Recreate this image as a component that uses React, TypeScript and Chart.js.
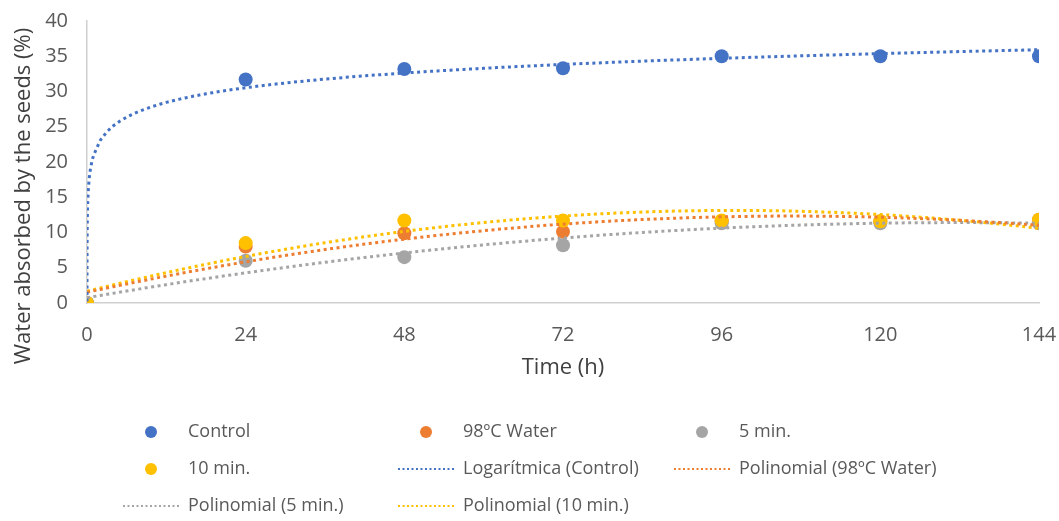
import React, { useEffect, useRef } from "react";
import { Chart, registerables } from "chart.js";

Chart.register(...registerables);

// ---- Data ----
const timeHours = [0, 24, 48, 72, 96, 120, 144];
const controlValues = [0, 31.7, 33.2, 33.3, 35.0, 35.0, 35.0];
const water98Values = [0, 8.0, 9.9, 10.1, 11.6, 11.6, 11.8];
const min5Values = [0, 6.0, 6.5, 8.2, 11.3, 11.3, 11.3];
const min10Values = [0, 8.5, 11.7, 11.7, 11.7, 11.6, 11.8];

const xTicks = [0, 24, 48, 72, 96, 120, 144];
const yTicks = [0, 5, 10, 15, 20, 25, 30, 35, 40];

const seriesNames = ["Control", "98ºC Water", "5 min.", "10 min."];
const trendNames = [
  "Logarítmica (Control)",
  "Polinomial (98ºC Water)",
  "Polinomial (5 min.)",
  "Polinomial (10 min.)",
];
const colors = ["#4472C4", "#ED7D31", "#A5A5A5", "#FFC000"];

// Excel cannot take ln(0); the zero time point is treated as a tiny time.
const LOG_ZERO_SUBSTITUTE = 0.001;

// ---- Regression helpers (trendlines computed from data) ----
function solve3(m: number[][], v: number[]): number[] {
  const a = m.map((r, i) => [...r, v[i]]);
  for (let i = 0; i < 3; i++) {
    let p = i;
    for (let k = i + 1; k < 3; k++) if (Math.abs(a[k][i]) > Math.abs(a[p][i])) p = k;
    [a[i], a[p]] = [a[p], a[i]];
    for (let k = 0; k < 3; k++) {
      if (k === i) continue;
      const f = a[k][i] / a[i][i];
      for (let j = i; j < 4; j++) a[k][j] -= f * a[i][j];
    }
  }
  return [a[0][3] / a[0][0], a[1][3] / a[1][1], a[2][3] / a[2][2]];
}

function polyFit2(xs: number[], ys: number[]) {
  const s = [0, 0, 0, 0, 0];
  const t = [0, 0, 0];
  xs.forEach((x, i) => {
    for (let k = 0; k < 5; k++) s[k] += Math.pow(x, k);
    for (let k = 0; k < 3; k++) t[k] += Math.pow(x, k) * ys[i];
  });
  const [c0, c1, c2] = solve3(
    [
      [s[0], s[1], s[2]],
      [s[1], s[2], s[3]],
      [s[2], s[3], s[4]],
    ],
    t
  );
  return (x: number) => c0 + c1 * x + c2 * x * x;
}

function logFit(xs: number[], ys: number[]) {
  const lx = xs.map((x) => Math.log(x <= 0 ? LOG_ZERO_SUBSTITUTE : x));
  const n = lx.length;
  const mx = lx.reduce((a, b) => a + b, 0) / n;
  const my = ys.reduce((a, b) => a + b, 0) / n;
  let sxy = 0;
  let sxx = 0;
  lx.forEach((l, i) => {
    sxy += (l - mx) * (ys[i] - my);
    sxx += (l - mx) * (l - mx);
  });
  const a = sxy / sxx;
  const b = my - a * mx;
  return (x: number) => a * Math.log(x) + b;
}

function sampleXs(fine: boolean) {
  const xs: number[] = [];
  if (fine) xs.push(0.001, 0.002, 0.005, 0.01, 0.02, 0.05, 0.1, 0.2, 0.35, 0.5, 0.75);
  else xs.push(0);
  for (let x = 1; x <= 144; x += 1) xs.push(x);
  return xs;
}

function curve(f: (x: number) => number, fine: boolean) {
  return sampleXs(fine).map((x) => ({ x, y: f(x) }));
}

const FONT = "'Open Sans', 'DejaVu Sans', sans-serif";
const TEXT = "#595959";

const legendPlugin = {
  id: "gridLegend",
  afterDraw(chart: any) {
    const ctx = chart.ctx;
    const colX = [151, 426, 702];
    const rowY = [432, 469, 506];
    const items: { label: string; color: string; kind: "dot" | "line" }[] = [];
    seriesNames.forEach((n, i) => items.push({ label: n, color: colors[i], kind: "dot" }));
    trendNames.forEach((n, i) => items.push({ label: n, color: colors[i], kind: "line" }));
    ctx.save();
    items.forEach((it, i) => {
      const cx = colX[i % 3];
      const cy = rowY[Math.floor(i / 3)];
      if (it.kind === "dot") {
        ctx.fillStyle = it.color;
        ctx.beginPath();
        ctx.arc(cx, cy, 6, 0, Math.PI * 2);
        ctx.fill();
      } else {
        ctx.strokeStyle = it.color;
        ctx.lineWidth = 2;
        ctx.setLineDash([2, 2.5]);
        ctx.beginPath();
        ctx.moveTo(cx - 28, cy);
        ctx.lineTo(cx + 28, cy);
        ctx.stroke();
        ctx.setLineDash([]);
      }
      ctx.fillStyle = TEXT;
      ctx.font = `18px ${FONT}`;
      ctx.textBaseline = "middle";
      ctx.textAlign = "left";
      ctx.fillText(it.label, cx + 37, cy);
    });

    // axis titles
    ctx.fillStyle = "#404040";
    ctx.font = `22px ${FONT}`;
    ctx.textAlign = "center";
    ctx.textBaseline = "middle";
    ctx.fillText("Time (h)", 563, 368);
    ctx.translate(24, 196);
    ctx.rotate(-Math.PI / 2);
    ctx.fillText("Water absorbed by the seeds (%)", 0, 0);
    ctx.restore();
  },
};

export default function App() {
  const ref = useRef<HTMLCanvasElement | null>(null);
  useEffect(() => {
    document.body.style.margin = "0";
    const toPts = (vals: number[]) => timeHours.map((x, i) => ({ x, y: vals[i] }));
    const fits = [
      curve(logFit(timeHours, controlValues), true),
      curve(polyFit2(timeHours, water98Values), false),
      curve(polyFit2(timeHours, min5Values), false),
      curve(polyFit2(timeHours, min10Values), false),
    ];
    const seriesVals = [controlValues, water98Values, min5Values, min10Values];
    const datasets: any[] = [];
    trendNames.forEach((n, i) =>
      datasets.push({
        label: n,
        data: fits[i],
        showLine: true,
        borderColor: colors[i],
        borderWidth: 3,
        borderDash: [3, 3.5],
        pointRadius: 0,
        tension: 0,
        order: 1,
      })
    );
    seriesNames.forEach((n, i) =>
      datasets.push({
        label: n,
        data: toPts(seriesVals[i]),
        backgroundColor: colors[i],
        borderColor: colors[i],
        pointRadius: 7,
        pointBorderWidth: 0,
        showLine: false,
        order: 10 - i,
      })
    );
    const chart = new Chart(ref.current as HTMLCanvasElement, {
      type: "scatter",
      data: { datasets },
      plugins: [legendPlugin],
      options: {
        animation: false,
        responsive: false,
        layout: { padding: { top: 21, right: 20, left: 0, bottom: 0 } },
        plugins: { legend: { display: false }, tooltip: { enabled: false } },
        scales: {
          x: {
            type: "linear",
            min: 0,
            max: 144,
            afterFit: (s: any) => {
              s.height = 218;
              s.paddingLeft = 0;
              s.paddingRight = 0;
            },
            afterBuildTicks: (s: any) => {
              s.ticks = xTicks.map((v) => ({ value: v }));
            },
            grid: { display: false, drawTicks: false },
            border: { display: true, color: "#D0D0D0", width: 1.5 },
            ticks: { color: TEXT, font: { size: 20, family: FONT }, padding: 20 },
          },
          y: {
            min: 0,
            max: 40,
            afterFit: (s: any) => {
              s.width = 87;
              s.paddingTop = 0;
              s.paddingBottom = 0;
            },
            afterBuildTicks: (s: any) => {
              s.ticks = yTicks.map((v) => ({ value: v }));
            },
            grid: { display: false, drawTicks: false },
            border: { display: true, color: "#D0D0D0", width: 1.5 },
            ticks: { color: TEXT, font: { size: 20, family: FONT }, padding: 19 },
          },
        },
      },
    });
    return () => chart.destroy();
  }, []);
  return (
    <div style={{ width: 1059, height: 521, background: "#fff" }}>
      <canvas ref={ref} width={1059} height={521} />
    </div>
  );
}
